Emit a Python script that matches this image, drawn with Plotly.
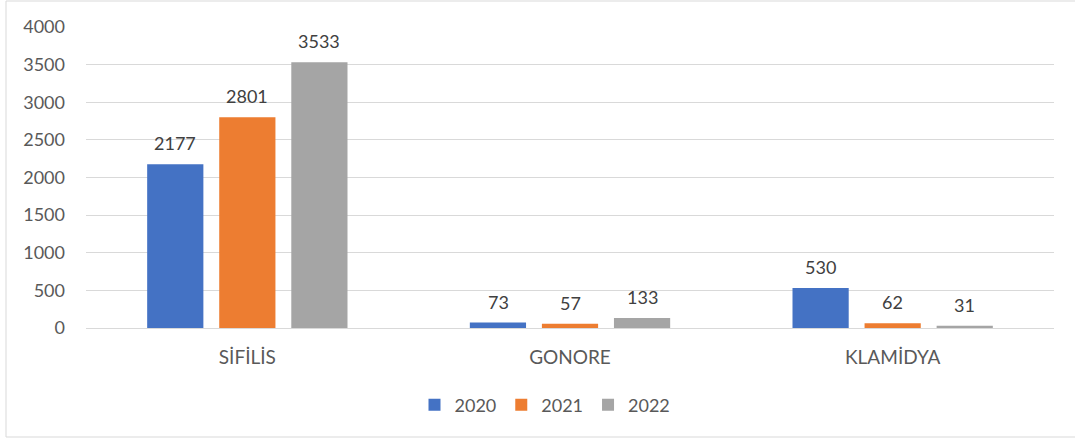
import plotly.graph_objects as go

categories = ["SİFİLİS", "GONORE", "KLAMİDYA"]
years = ["2020", "2021", "2022"]
v2020 = [2177, 73, 530]
v2021 = [2801, 57, 62]
v2022 = [3533, 133, 31]
colors = ["#4472C4", "#ED7D31", "#A5A5A5"]
y_ticks = [0, 500, 1000, 1500, 2000, 2500, 3000, 3500, 4000]

FONT = "Lato, Carlito, 'Liberation Sans', sans-serif"
GREY = "#595959"

W, H = 1075, 439
ml, mr, mt, mb = 86, 21, 27, 111
pw, ph = W - ml - mr, H - mt - mb
slot = 72  # px between grouped bar centres

fig = go.Figure()
annotations = []
for i, (name, vals, col) in enumerate(zip(years, [v2020, v2021, v2022], colors)):
    fig.add_trace(go.Bar(
        x=categories, y=vals, name=name,
        marker=dict(color=col, line=dict(width=0)),
    ))
    for c, v in zip(categories, vals):
        annotations.append(dict(
            x=c, y=v, xref="x", yref="y", text=str(v), showarrow=False,
            xanchor="center", yanchor="bottom", xshift=(i - 1) * slot, yshift=8,
            font=dict(family=FONT, size=18, color="#404040"),
        ))

fig.update_layout(
    width=W, height=H,
    margin=dict(l=ml, r=mr, t=mt, b=mb),
    paper_bgcolor="white", plot_bgcolor="white",
    barmode="group", bargap=0.33, bargroupgap=0.22,
    font=dict(family=FONT, size=16, color=GREY),
    showlegend=True,
    legend=dict(orientation="h", x=(545 - ml) / pw, xanchor="center",
                y=-(405 - 328) / ph, yanchor="middle",
                font=dict(family=FONT, size=18, color=GREY),
                itemwidth=30, tracegroupgap=0, traceorder="normal"),
    xaxis=dict(showgrid=False, showline=False, ticks="", ticklabelstandoff=16,
               tickfont=dict(family=FONT, size=19, color=GREY)),
    yaxis=dict(range=[0, 4000], tickvals=y_ticks, showgrid=True,
               gridcolor="#D9D9D9", gridwidth=1, zeroline=True,
               zerolinecolor="#D9D9D9", zerolinewidth=1, showline=False,
               ticks="", ticklabelstandoff=20,
               tickfont=dict(family=FONT, size=18, color=GREY)),
    annotations=annotations,
    shapes=[dict(type="rect", xref="paper", yref="paper",
                 x0=(6 - ml) / pw, x1=(1085 - ml) / pw,
                 y0=-(437 - 328) / ph, y1=(328 - 1) / ph,
                 line=dict(color="#D9D9D9", width=1), layer="below")],
)

fig.write_html("out.html", config={"displayModeBar": False},
               post_script="document.body.style.margin='0';")
